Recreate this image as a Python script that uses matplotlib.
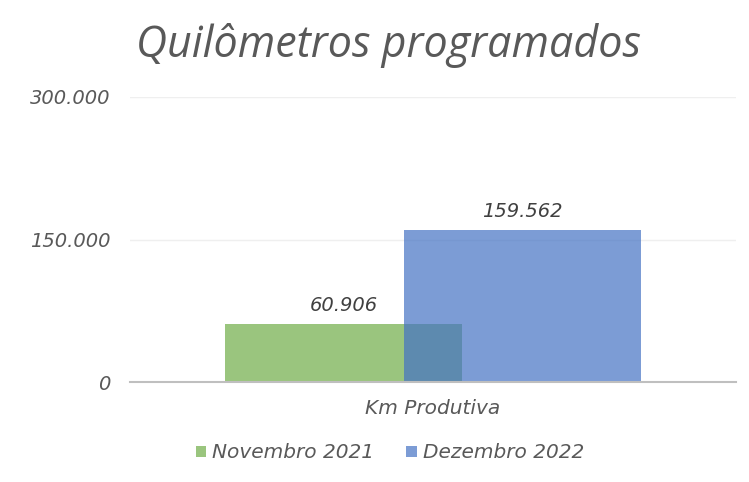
import matplotlib.pyplot as plt
import numpy as np

# dados
categorias = ['Km Produtiva']
series = ['Novembro 2021', 'Dezembro 2022']
valores_nov = [60906]
valores_dez = [159562]
cores = ['#70AD47', '#4472C4']
yticks = [0, 150000, 300000]
ytick_labels = ['0', '150.000', '300.000']

plt.rcParams['font.family'] = ['DejaVu Sans']

fig = plt.figure(figsize=(7.49, 4.82), dpi=100)
ax = fig.add_axes([130 / 749, 1 - 382 / 482, 606 / 749, 285 / 482])

x = np.arange(len(categorias))
largura = 0.391
desloc = 0.147

b1 = ax.bar(x - desloc, valores_nov, largura, color=cores[0], alpha=0.7,
            label=series[0], zorder=2)
b2 = ax.bar(x + desloc, valores_dez, largura, color=cores[1], alpha=0.7,
            label=series[1], zorder=3)

for barras, vals in [(b1, valores_nov), (b2, valores_dez)]:
    for r, v in zip(barras, vals):
        ax.text(r.get_x() + r.get_width() / 2, v + 10000,
                f'{v:,}'.replace(',', '.'), ha='center', va='bottom',
                fontsize=14, style='italic', color='#404040', zorder=4)

ax.set_xlim(-0.5, 0.5)
ax.set_ylim(0, 300000)
ax.set_yticks(yticks)
ax.set_yticklabels(ytick_labels, fontsize=14, style='italic', color='#595959')
ax.set_xticks(x)
ax.set_xticklabels(categorias, fontsize=14.5, style='italic', color='#595959')
ax.tick_params(axis='both', length=0)
ax.tick_params(axis='y', pad=14)
ax.tick_params(axis='x', pad=12)

ax.grid(axis='y', color='#efefef', linewidth=1, zorder=0)
for s in ['top', 'right', 'left']:
    ax.spines[s].set_visible(False)
ax.spines['bottom'].set_color('#bfbfbf')
ax.spines['bottom'].set_linewidth(1.5)
ax.spines['bottom'].set_zorder(5)

fig.text(388 / 749, 1 - 45 / 482, 'Quilômetros programados', ha='center',
         va='center', fontsize=31, style='italic', fontweight='normal',
         color='#595959', family=['Open Sans', 'DejaVu Sans'])

leg = fig.legend(handles=[b1, b2], labels=series, loc='center',
                 bbox_to_anchor=(390 / 749, 1 - 453 / 482), ncol=2,
                 frameon=False, fontsize=14.5, handlelength=0.5,
                 handleheight=0.5, handletextpad=0.3, columnspacing=1.6)
for t in leg.get_texts():
    t.set_style('italic')
    t.set_color('#595959')

fig.savefig('out.png', dpi=100)
